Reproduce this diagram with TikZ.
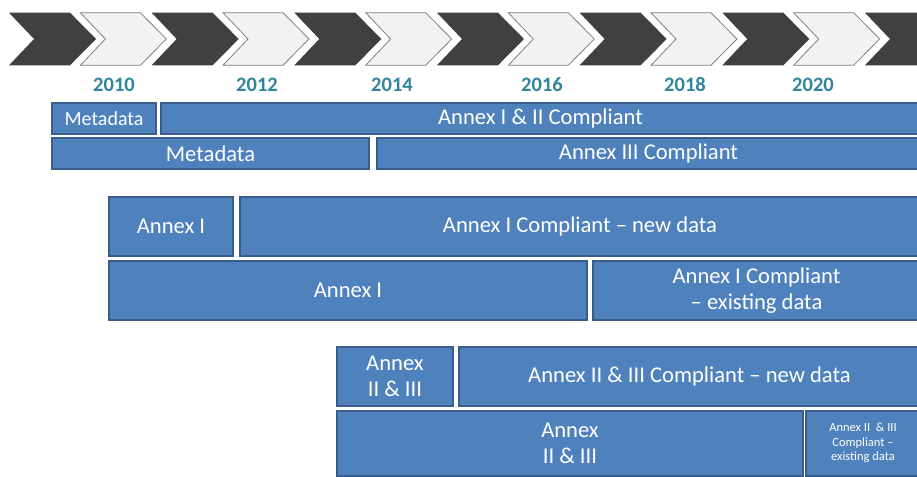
\documentclass[tikz,border=0pt]{standalone}
\usepackage{fontspec}
\setmainfont{Carlito}
\definecolor{boxfill}{HTML}{4F81BD}
\definecolor{boxline}{HTML}{385D8A}
\definecolor{chevdark}{HTML}{404040}
\definecolor{chevlight}{HTML}{F2F2F2}
\definecolor{chevedge}{HTML}{808080}
\definecolor{yearcol}{HTML}{31859C}
\begin{document}
\begin{tikzpicture}[x=1pt,y=-1pt,
  tbox/.style 2 args={draw=boxline, line width=2pt, fill=boxfill, text=white,
    inner sep=0pt, align=center, font=\fontsize{22.6}{25.5}\selectfont,
    minimum width=#1, minimum height=#2},
  smalltext/.style={font=\fontsize{12.5}{14.5}\selectfont},
  mdtext/.style={font=\fontsize{20}{24}\selectfont},
  yearlbl/.style={text=yearcol, anchor=base, font=\fontsize{20.5}{24}\selectfont\bfseries},
  darkchev/.style={fill=chevdark},
  lightchev/.style={fill=chevlight, draw=chevedge, line width=0.8pt}]
\clip (0,0) rectangle (917,476);
\fill[white] (0,0) rectangle (917,476);

% timeline chevrons
\foreach \k in {0,...,12} {
  \pgfmathsetmacro\xo{9+71.33*\k}
  \ifodd\k
    \path[lightchev] (\xo,12.7) -- ++(60,0) -- ++(26,26.3) -- ++(-26,26.3)
      -- ++(-60,0) -- ++(25,-26.3) -- cycle;
  \else
    \path[darkchev] (\xo,12.7) -- ++(61,0) -- ++(26,26.3) -- ++(-26,26.3)
      -- ++(-61,0) -- ++(25,-26.3) -- cycle;
  \fi
}

% year labels
\node[yearlbl] (y2010) at (114,92) {2010};
\node[yearlbl] (y2012) at (257,92) {2012};
\node[yearlbl] (y2014) at (392,92) {2014};
\node[yearlbl] (y2016) at (542,92) {2016};
\node[yearlbl] (y2018) at (685,92) {2018};
\node[yearlbl] (y2020) at (813,92) {2020};

% metadata and Annex I & II / III compliance
\node[tbox={104pt}{31pt}, mdtext] (md1) at (104,118.5) {Metadata};
\node[tbox={759pt}{31pt}] (c12) at (540.5,118.5) {Annex I \& II Compliant};
\node[tbox={317pt}{31pt}] (md2) at (210.5,153.5) {Metadata};
\node[tbox={543pt}{31pt}] (c3) at (648.5,153.5) {Annex III Compliant};

% Annex I
\node[tbox={124pt}{59pt}] (a1a) at (171,226.5) {Annex I};
\node[tbox={680pt}{59pt}] (a1new) at (580,226.5) {Annex I Compliant – new data};
\node[tbox={478pt}{59pt}] (a1b) at (348,290.5) {Annex I};
\node[tbox={327pt}{59pt}] (a1old) at (756.5,290.5) {Annex I Compliant\\– existing data};

% Annex II & III
\node[tbox={116pt}{59pt}] (a23a) at (395,376.5) {Annex\\II \& III};
\node[tbox={461pt}{59pt}] (a23new) at (689.5,376.5) {Annex II \& III Compliant – new data};
\node[tbox={466pt}{64.5pt}] (a23b) at (570,443.25) {Annex\\II \& III};
\node[tbox={114pt}{64.5pt}, smalltext] (a23old) at (863,443.25)
  {Annex II~ \& III\\Compliant –\\existing data};
\end{tikzpicture}
\end{document}
